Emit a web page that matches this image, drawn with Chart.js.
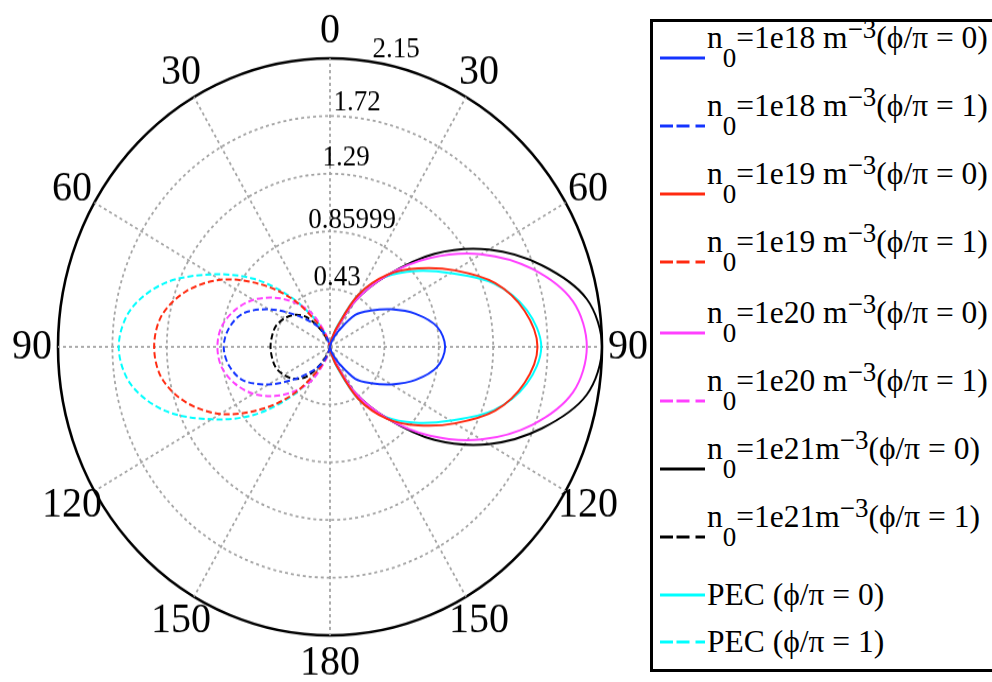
<!DOCTYPE html>
<html>
<head>
  <title>Polar pattern</title>
  <script src="https://cdn.jsdelivr.net/npm/chart.js"></script>
  <style>
    body { margin: 0; background: #fff; }
    #wrap { position: relative; width: 992px; height: 682px; overflow: hidden; background: #fff; }
    #polar { position: absolute; left: 0; top: 0; }
    #legend-box { position: absolute; left: 650px; top: 19px; width: 360px; height: 653px;
      border: 3px solid #000; border-right: none; box-sizing: border-box; }
    .row { position: absolute; left: 660px; width: 330px; height: 40px;
      font-family: "Liberation Serif", serif; font-size: 31.5px; line-height: 40px; white-space: nowrap; }
    .row svg { position: absolute; left: 0; top: 0; }
    .row .txt { position: absolute; left: 47px; }
    .row sub, .row sup { font-size: 27px; vertical-align: baseline; position: relative; }
    .row sub { top: 19px; }
    .row sup { top: -10px; }
  </style>
</head>
<body>
<div id="wrap">
  <!-- drawn at 650x643 and shown at 650x682: the reference plot is a little taller than wide -->
  <canvas id="polar" width="650" height="643" style="width:650px;height:682px"></canvas>
  <div id="legend-box"></div>
  <div id="legend"></div>
</div>
<script>
// angle categories (degrees, clockwise from top)
var angles = [0, 10, 20, 30, 40, 50, 60, 70, 80, 90, 100, 110, 120, 130, 140, 150, 160, 170,
              180, 190, 200, 210, 220, 230, 240, 250, 260, 270, 280, 290, 300, 310, 320, 330, 340, 350];
var angleTickLabels = ['0', '30', '60', '90', '120', '150', '180', '150', '120', '90', '60', '30'];
var radialTicks = [0, 0.43, 0.85999, 1.29, 1.72, 2.15];
var radialTickLabels = ['0.43', '0.85999', '1.29', '1.72', '2.15'];

var seriesNames = [
  'n₀=1e18 m⁻³(ϕ/π = 0)', 'n₀=1e18 m⁻³(ϕ/π = 1)',
  'n₀=1e19 m⁻³(ϕ/π = 0)', 'n₀=1e19 m⁻³(ϕ/π = 1)',
  'n₀=1e20 m⁻³(ϕ/π = 0)', 'n₀=1e20 m⁻³(ϕ/π = 1)',
  'n₀=1e21m⁻³(ϕ/π = 0)', 'n₀=1e21m⁻³(ϕ/π = 1)',
  'PEC (ϕ/π = 0)', 'PEC (ϕ/π = 1)'
];

var n18_phi0 = [0, 0.01, 0.05, 0.14, 0.31, 0.42, 0.56, 0.72, 0.86, 0.91, 0.86, 0.72, 0.56, 0.42, 0.31, 0.14, 0.05, 0.01,
                0, 0, 0, 0, 0, 0, 0, 0, 0, 0, 0, 0, 0, 0, 0, 0, 0, 0];
var n18_phi1 = [0, 0, 0, 0, 0, 0, 0, 0, 0, 0, 0, 0, 0, 0, 0, 0, 0, 0,
                0, 0.01, 0.07, 0.16, 0.25, 0.38, 0.56, 0.73, 0.81, 0.84, 0.81, 0.73, 0.56, 0.38, 0.25, 0.16, 0.07, 0.01];
var n19_phi0 = [0, 0.04, 0.15, 0.45, 0.70, 0.91, 1.14, 1.39, 1.56, 1.64, 1.56, 1.39, 1.14, 0.91, 0.70, 0.45, 0.15, 0.04,
                0, 0, 0, 0, 0, 0, 0, 0, 0, 0, 0, 0, 0, 0, 0, 0, 0, 0];
var n19_phi1 = [0, 0, 0, 0, 0, 0, 0, 0, 0, 0, 0, 0, 0, 0, 0, 0, 0, 0,
                0, 0.02, 0.08, 0.22, 0.47, 0.73, 1.00, 1.21, 1.35, 1.39, 1.35, 1.21, 1.00, 0.73, 0.47, 0.22, 0.08, 0.02];
var n20_phi0 = [0, 0.03, 0.12, 0.39, 0.69, 1.03, 1.38, 1.70, 1.95, 2.03, 1.95, 1.70, 1.38, 1.03, 0.69, 0.39, 0.12, 0.03,
                0, 0, 0, 0, 0, 0, 0, 0, 0, 0, 0, 0, 0, 0, 0, 0, 0, 0];
var n20_phi1 = [0, 0, 0, 0, 0, 0, 0, 0, 0, 0, 0, 0, 0, 0, 0, 0, 0, 0,
                0, 0.02, 0.11, 0.29, 0.43, 0.57, 0.70, 0.80, 0.87, 0.89, 0.87, 0.80, 0.70, 0.57, 0.43, 0.29, 0.11, 0.02];
var n21_phi0 = [0, 0.03, 0.12, 0.39, 0.69, 1.08, 1.45, 1.78, 2.06, 2.15, 2.06, 1.78, 1.45, 1.08, 0.69, 0.39, 0.12, 0.03,
                0, 0, 0, 0, 0, 0, 0, 0, 0, 0, 0, 0, 0, 0, 0, 0, 0, 0];
var n21_phi1 = [0, 0, 0, 0, 0, 0, 0, 0, 0, 0, 0, 0, 0, 0, 0, 0, 0, 0,
                0, 0.01, 0.05, 0.15, 0.29, 0.37, 0.42, 0.455, 0.465, 0.47, 0.465, 0.455, 0.42, 0.37, 0.29, 0.15, 0.05, 0.01];
var pec_phi0 = [0, 0.04, 0.16, 0.45, 0.68, 0.88, 1.10, 1.38, 1.58, 1.67, 1.58, 1.38, 1.10, 0.88, 0.68, 0.45, 0.16, 0.04,
                0, 0, 0, 0, 0, 0, 0, 0, 0, 0, 0, 0, 0, 0, 0, 0, 0, 0];
var pec_phi1 = [0, 0, 0, 0, 0, 0, 0, 0, 0, 0, 0, 0, 0, 0, 0, 0, 0, 0,
                0, 0.03, 0.10, 0.24, 0.49, 0.79, 1.08, 1.39, 1.60, 1.67, 1.60, 1.39, 1.08, 0.79, 0.49, 0.24, 0.10, 0.03];

var seriesValues = [n18_phi0, n18_phi1, n19_phi0, n19_phi1, n20_phi0, n20_phi1, n21_phi0, n21_phi1, pec_phi0, pec_phi1];

// styles
var seriesColors = ['#1434ff', '#1434ff', '#ff2a10', '#ff2a10', '#ff40ff', '#ff40ff', '#000000', '#000000', '#00ffff', '#00ffff'];
var seriesDashed = [false, true, false, true, false, true, false, true, false, true];
var legendRowY = [58, 126, 194, 262, 333, 401, 469, 537, 595, 642];
var tickDx = [7, 22, 16, 27, 66];
var tickDy = [11, 10.5, 14.5, 12, 8];
var gridGray = '#a4a4a4';

var datasets = seriesValues.map(function(vals, i) {
  return {
    label: seriesNames[i],
    data: vals,
    borderColor: seriesColors[i],
    backgroundColor: seriesColors[i],
    borderWidth: 2,
    borderDash: seriesDashed[i] ? [6, 3] : [],
    pointRadius: 0,
    fill: false,
    tension: 0.33
  };
});

function legendHtml(text) {
  return text.replace('₀', '<sub>0</sub>').replace('⁻³', '<sup>−3</sup>');
}

var htmlLegend = {
  id: 'htmlLegend',
  afterUpdate: function(chart) {
    var box = document.getElementById('legend');
    box.innerHTML = '';
    chart.data.datasets.forEach(function(ds, i) {
      var row = document.createElement('div');
      row.className = 'row';
      row.style.top = (legendRowY[i] - 20) + 'px';
      var dash = ds.borderDash.length ? ' stroke-dasharray="13 3.5 13 6"' : '';
      row.innerHTML = '<svg width="46" height="40"><line x1="0" y1="20" x2="45" y2="20" stroke="' +
        ds.borderColor + '" stroke-width="3"' + dash + '/></svg>' +
        '<span class="txt" style="top:' + (ds.label.indexOf('PEC') === 0 ? 0 : -20) + 'px">' +
        legendHtml(ds.label) + '</span>';
      box.appendChild(row);
    });
  }
};

var polarText = {
  id: 'polarText',
  afterDraw: function(chart) {
    var r = chart.scales.r;
    var ctx = chart.ctx;
    ctx.save();
    ctx.fillStyle = '#000';
    ctx.textAlign = 'center';
    ctx.textBaseline = 'middle';
    ctx.font = '40px "Liberation Serif"';
    angleTickLabels.forEach(function(txt, k) {
      var p = r.getPointPosition(k * 3, r.drawingArea + 26);
      ctx.fillText(txt, p.x, p.y);
    });
    ctx.font = '27px "Liberation Serif"';
    radialTickLabels.forEach(function(txt, i) {
      var d = r.getDistanceFromCenterForValue(radialTicks[i + 1]);
      ctx.fillText(txt, r.xCenter + tickDx[i], r.yCenter - d - tickDy[i]);
    });
    ctx.restore();
  }
};

var last = radialTicks.length - 1;
var chart = new Chart(document.getElementById('polar').getContext('2d'), {
  type: 'radar',
  data: { labels: angles, datasets: datasets },
  options: {
    responsive: false,
    animation: false,
    devicePixelRatio: 1,
    events: [],
    layout: { padding: { left: 58, right: 48, top: 55, bottom: 44 } },
    plugins: { legend: { display: false }, tooltip: { enabled: false } },
    scales: {
      r: {
        min: 0,
        max: 2.15,
        startAngle: 0,
        afterBuildTicks: function(s) {
          s.ticks = radialTicks.map(function(v) { return { value: v }; });
        },
        ticks: { display: false },
        pointLabels: { display: false },
        grid: {
          circular: true,
          color: function(c) { return c.index === last ? '#000' : gridGray; },
          lineWidth: function(c) { return c.index === last ? 2.6 : 1.8; }
        },
        border: {
          dash: function(c) { return c.index === last ? [] : [3, 3]; }
        },
        angleLines: {
          color: gridGray,
          lineWidth: function(c) { return c.index % 3 === 0 ? 1.8 : 0; },
          borderDash: [3, 3]
        }
      }
    }
  },
  plugins: [htmlLegend, polarText]
});
</script>
</body>
</html>
